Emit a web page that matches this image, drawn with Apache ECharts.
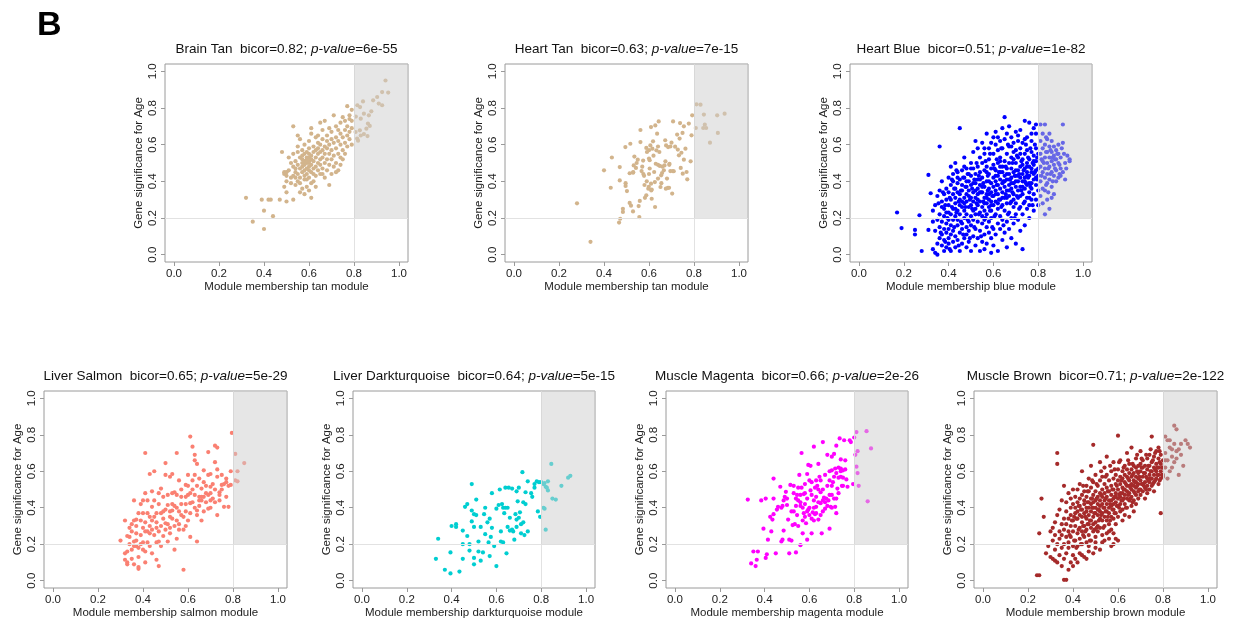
<!DOCTYPE html>
<html><head><meta charset="utf-8">
<script src="https://cdn.jsdelivr.net/npm/echarts@6/dist/echarts.min.js"></script>
<style>html,body{margin:0;padding:0;background:#fff}#c{width:1234px;height:621px}</style>
</head><body><div id="c"></div>
<script>
const panelNames = ['Brain Tan','Heart Tan','Heart Blue','Liver Salmon','Liver Darkturquoise','Muscle Magenta','Muscle Brown'];
const moduleNames = ['tan','tan','blue','salmon','darkturquoise','magenta','brown'];
const bicorValues = ['0.82','0.63','0.51','0.65','0.64','0.66','0.71'];
const pValues = ['6e-55','7e-15','1e-82','5e-29','5e-15','2e-26','2e-122'];
const tickValues = [0,0.2,0.4,0.6,0.8,1.0];
const mmThreshold = 0.8;
const gsThreshold = 0.2;

const brainTan = [[.32,.31],[.35,.18],[.39,.30],[.40,.24],[.40,.14],[.43,.30],[.42,.30],[.44,.21],[.47,.30],[.50,.29],[.53,.30],[.61,.31],
[.48,.56],[.49,.45],[.49,.44],[.50,.43],[.50,.45],[.49,.37],[.50,.34],[.50,.40],[.51,.46],[.52,.39],[.52,.42],[.53,.48],[.53,.55],[.53,.70],[.54,.45],[.54,.47],[.54,.51],[.54,.38],[.55,.40],[.55,.44],[.55,.49],[.55,.56],[.55,.65],[.56,.42],[.56,.47],[.56,.53],[.56,.63],[.56,.39],[.57,.36],[.57,.45],[.57,.48],[.57,.50],[.57,.52],[.57,.54],[.58,.33],[.58,.41],[.58,.46],[.58,.49],[.58,.51],[.58,.55],[.58,.60],[.59,.37],[.59,.44],[.59,.47],[.59,.50],[.59,.52],[.59,.53],[.59,.56],[.60,.35],[.60,.42],[.60,.48],[.60,.50],[.60,.51],[.60,.53],[.60,.55],[.60,.58],[.60,.62],[.61,.45],[.61,.49],[.61,.52],[.61,.54],[.61,.66],[.61,.69],[.62,.40],[.62,.47],[.62,.51],[.62,.56],[.62,.59],[.63,.43],[.63,.48],[.63,.53],[.63,.57],[.63,.64],[.64,.46],[.64,.50],[.64,.55],[.64,.58],[.64,.61],[.64,.65],[.65,.44],[.65,.49],[.65,.52],[.65,.56],[.65,.60],[.65,.72],[.66,.47],[.66,.53],[.66,.57],[.66,.63],[.66,.68],[.67,.42],[.67,.50],[.67,.55],[.67,.59],[.67,.73],[.68,.46],[.68,.52],[.68,.58],[.68,.62],[.68,.65],[.69,.38],[.69,.49],[.69,.55],[.69,.60],[.69,.69],[.70,.44],[.70,.52],[.70,.57],[.70,.63],[.70,.67],[.71,.48],[.71,.54],[.71,.61],[.71,.76],[.72,.50],[.72,.58],[.72,.64],[.72,.70],[.73,.46],[.73,.55],[.73,.62],[.73,.68],[.74,.53],[.74,.60],[.74,.66],[.74,.72],[.75,.57],[.75,.64],[.75,.75],[.75,.52],[.76,.61],[.76,.68],[.76,.73],[.77,.59],[.77,.65],[.77,.70],[.77,.81],[.78,.63],[.78,.67],[.78,.74],[.78,.76],[.79,.60],[.79,.69],[.79,.73],[.79,.79],[.76,.55],[.74,.49],[.72,.45],[.63,.37],[.66,.44],[.58,.43],[.62,.44],[.55,.59],[.52,.50],[.51,.53],[.53,.43],[.56,.34],[.54,.42],[.59,.41],[.61,.39],[.57,.57],[.60,.46],
[.94,.95],[.925,.887],[.952,.884],[.903,.86],[.885,.842],[.91,.824],[.925,.815],[.84,.836],[.815,.815],[.827,.805],[.877,.782],[.844,.769],[.866,.76],[.808,.753],[.83,.742],[.862,.715],[.87,.702],[.855,.687],[.826,.678],[.807,.669],[.83,.65],[.86,.647],[.814,.633],[.818,.622],[.844,.658]];

const heartTan = [[.28,.28],[.34,.07],[.40,.46],[.43,.365],[.435,.53],[.467,.175],[.472,.196],[.484,.25],[.484,.233],[.47,.405],[.47,.478],[.495,.587],[.496,.39],[.496,.375],[.502,.347],[.514,.444],[.517,.605],[.514,.282],[.52,.267],[.529,.236],[.529,.447],[.532,.487],[.535,.535],[.542,.473],[.55,.518],[.554,.265],[.557,.205],[.559,.293],[.562,.68],[.562,.614],[.567,.456],[.574,.513],[.575,.44],[.578,.43],[.582,.31],[.588,.324],[.588,.582],[.591,.56],[.597,.36],[.599,.37],[.60,.524],[.603,.47],[.603,.515],[.606,.596],[.609,.696],[.609,.387],[.612,.305],[.612,.355],[.615,.578],[.618,.618],[.623,.451],[.626,.396],[.627,.26],[.628,.705],[.63,.496],[.633,.569],[.636,.66],[.64,.415],[.643,.727],[.646,.56],[.648,.484],[.651,.369],[.654,.433],[.658,.445],[.666,.46],[.669,.487],[.672,.624],[.673,.509],[.676,.596],[.68,.415],[.684,.364],[.685,.587],[.689,.365],[.691,.496],[.695,.456],[.70,.611],[.703,.333],[.706,.456],[.707,.727],[.716,.589],[.725,.655],[.728,.573],[.733,.542],[.736,.633],[.738,.718],[.741,.473],[.744,.556],[.749,.664],[.75,.442],[.755,.70],[.755,.518],[.762,.578],[.767,.451],[.77,.411],[.777,.715],[.785,.509],[.789,.651],[.792,.76],[.62,.54],[.66,.48],[.59,.40],[.64,.49],[.69,.49],[.71,.455],[.57,.48],[.60,.44],[.655,.39],[.61,.35],[.58,.38],[.64,.59],[.695,.59],[.545,.50],[.53,.45],[.60,.57],[.675,.36],
[.811,.82],[.829,.818],[.844,.764],[.808,.691],[.848,.709],[.854,.691],[.841,.691],[.903,.76],[.936,.769],[.871,.611],[.906,.664]];

const heartBlue = [[.17,.23],[.19,.145],[.25,.11],[.25,.135],[.27,.215],[.28,.02],[.31,.435],[.31,.135],[.32,.335],[.33,.03],[.33,.18],[.33,.24],[.34,.01],[.34,.27],[.34,.13],
[.35,0],[.35,.32],[.35,.06],[.35,.19],[.36,.59],[.36,.09],[.36,.22],[.36,.35],[.36,.15],[.37,.05],[.37,.26],[.37,.11],[.37,.40],[.37,.18],[.37,.29],[.38,.02],[.38,.14],[.38,.21],[.38,.33],[.38,.08],[.38,.25],[.39,.12],[.39,.36],[.39,.17],[.39,.04],[.39,.30],[.39,.23],[.40,.09],[.40,.42],[.40,.19],[.40,.27],[.40,.14],[.40,.34],[.40,.06],
[.41,.48],[.41,.22],[.41,.11],[.41,.30],[.41,.02],[.41,.38],[.41,.16],[.42,.25],[.42,.07],[.42,.33],[.42,.19],[.42,.44],[.42,.13],[.43,.28],[.43,.04],[.43,.36],[.43,.21],[.43,.10],[.43,.50],[.43,.31],[.44,.16],[.44,.24],[.44,.39],[.44,.08],[.44,.34],[.44,.45],[.44,.19],[.45,.69],[.45,.27],[.45,.12],[.45,.30],[.45,.41],[.45,.02],[.45,.22],[.46,.35],[.46,.17],[.46,.06],[.46,.26],[.46,.46],[.46,.38],[.46,.14],[.47,.31],[.47,.20],[.47,.09],[.47,.42],[.47,.28],[.47,.53],[.47,.24],[.48,.15],[.48,.37],[.48,.04],[.48,.33],[.48,.22],[.48,.47],[.48,.11],[.48,.29],[.49,.40],[.49,.18],[.49,.26],[.49,.07],[.49,.35],[.49,.44],[.49,.13],[.50,.31],[.50,.21],[.50,.50],[.50,.02],[.50,.38],[.50,.16],[.50,.27],[.50,.43],
[.51,.10],[.51,.34],[.51,.24],[.51,.47],[.51,.19],[.51,.56],[.51,.29],[.52,.05],[.52,.39],[.52,.14],[.52,.31],[.52,.22],[.52,.62],[.52,.44],[.53,.27],[.53,.09],[.53,.36],[.53,.18],[.53,.48],[.53,.41],[.53,.33],[.54,.23],[.54,.02],[.54,.53],[.54,.13],[.54,.29],[.54,.38],[.54,.45],[.55,.17],[.55,.34],[.55,.07],[.55,.26],[.55,.42],[.55,.61],[.55,.50],[.55,.21],[.56,.31],[.56,.11],[.56,.37],[.56,.46],[.56,.24],[.56,.03],[.56,.55],[.56,.19],[.57,.28],[.57,.40],[.57,.15],[.57,.33],[.57,.66],[.57,.48],[.57,.22],[.57,.06],[.58,.36],[.58,.26],[.58,.44],[.58,.12],[.58,.30],[.58,.52],[.58,.18],[.58,.58],[.59,.39],[.59,.09],[.59,.24],[.59,.34],[.59,.47],[.59,.01],[.59,.29],[.59,.20],[.60,.42],[.60,.14],[.60,.37],[.60,.55],[.60,.27],[.60,.64],[.60,.32],[.60,.05],
[.61,.46],[.61,.22],[.61,.35],[.61,.60],[.61,.11],[.61,.40],[.61,.29],[.61,.67],[.62,.50],[.62,.17],[.62,.33],[.62,.43],[.62,.25],[.62,.57],[.62,.38],[.62,.02],[.63,.30],[.63,.48],[.63,.14],[.63,.36],[.63,.62],[.63,.41],[.63,.21],[.63,.53],[.64,.27],[.64,.45],[.64,.08],[.64,.34],[.64,.58],[.64,.39],[.64,.19],[.64,.69],[.65,.75],[.65,.43],[.65,.31],[.65,.51],[.65,.24],[.65,.37],[.65,.63],[.65,.12],[.66,.47],[.66,.28],[.66,.55],[.66,.35],[.66,.41],[.66,.18],[.66,.66],[.66,.04],[.67,.32],[.67,.50],[.67,.44],[.67,.23],[.67,.38],[.67,.59],[.67,.70],[.67,.14],[.68,.42],[.68,.29],[.68,.53],[.68,.36],[.68,.47],[.68,.20],[.68,.64],[.68,.09],[.69,.39],[.69,.56],[.69,.26],[.69,.45],[.69,.33],[.69,.61],[.69,.17],[.70,.50],[.70,.37],[.70,.43],[.70,.28],[.70,.67],[.70,.57],[.70,.22],[.70,.06],
[.71,.40],[.71,.53],[.71,.31],[.71,.46],[.71,.62],[.71,.19],[.71,.35],[.72,.48],[.72,.26],[.72,.42],[.72,.58],[.72,.37],[.72,.68],[.72,.13],[.73,.44],[.73,.33],[.73,.52],[.73,.22],[.73,.40],[.73,.61],[.73,.03],[.74,.47],[.74,.29],[.74,.55],[.74,.36],[.74,.73],[.74,.42],[.74,.16],[.75,.50],[.75,.31],[.75,.45],[.75,.64],[.75,.25],[.75,.38],[.75,.57],[.76,.43],[.76,.34],[.76,.52],[.76,.27],[.76,.48],[.76,.72],[.76,.20],[.77,.39],[.77,.56],[.77,.45],[.77,.30],[.77,.62],[.77,.36],[.78,.49],[.78,.41],[.78,.33],[.78,.54],[.78,.69],[.78,.24],[.79,.46],[.79,.38],[.79,.58],[.79,.30],[.79,.51],[.79,.66],[.80,.43],[.80,.35],[.80,.55],[.80,.27],
[.355,.28],[.365,.12],[.375,.34],[.385,.07],[.385,.27],[.395,.20],[.405,.31],[.405,.03],[.415,.26],[.415,.41],[.425,.15],[.425,.36],[.435,.23],[.435,.46],[.445,.29],[.445,.05],[.455,.35],[.455,.18],[.465,.42],[.465,.11],[.475,.26],[.475,.37],[.485,.19],[.485,.44],[.495,.30],[.495,.09],[.505,.36],[.505,.25],[.515,.41],[.515,.15],[.525,.28],[.525,.50],[.535,.22],[.535,.43],[.545,.34],[.545,.10],[.555,.39],[.555,.29],[.565,.20],[.565,.51],[.575,.35],[.575,.43],[.585,.24],[.585,.55],[.595,.32],[.595,.15],[.605,.47],[.605,.21],[.615,.38],[.615,.52],[.625,.30],[.625,.45],[.635,.26],[.635,.58],[.645,.40],[.645,.16],[.655,.48],[.655,.33],[.665,.22],[.665,.60],[.675,.41],[.675,.28],[.685,.50],[.685,.34],[.695,.43],[.695,.20],[.705,.54],[.705,.32],[.715,.44],[.715,.25],[.725,.51],[.725,.35],[.735,.46],[.735,.28],[.745,.60],[.745,.39],[.755,.42],[.755,.53],[.765,.37],[.765,.58],[.775,.50],[.775,.27],[.785,.45],[.785,.60],[.795,.41],[.795,.53],
[.52,.25],[.53,.30],[.54,.34],[.56,.28],[.57,.31],[.58,.40],[.59,.27],[.61,.33],[.62,.28],[.63,.45],[.64,.31],[.65,.40],[.66,.31],[.67,.35],[.68,.39],[.69,.30],[.70,.40],[.71,.43],[.72,.32],[.73,.37],[.74,.40],[.75,.43],[.76,.39],[.77,.47],[.78,.44],[.79,.42],[.80,.47],[.76,.31],[.73,.49],[.70,.46],[.67,.41],[.64,.48],[.61,.43],[.58,.33],[.55,.37],[.52,.35],[.49,.32],[.46,.29],[.43,.25],[.40,.23],[.42,.40],[.45,.33],[.48,.40],[.51,.39],[.54,.41],[.57,.45],[.60,.49],[.63,.51],[.66,.44],[.69,.52],[.72,.55],[.75,.48],[.78,.51],[.62,.64],[.59,.61],[.56,.58],[.68,.59],[.71,.65],[.74,.63],[.77,.66],[.79,.71],[.53,.58],[.50,.47],[.47,.48],[.44,.42],
[.81,.62],[.81,.48],[.81,.40],[.81,.71],[.81,.32],[.81,.55],[.82,.45],[.82,.58],[.82,.36],[.82,.51],[.82,.66],[.82,.28],[.83,.71],[.83,.53],[.83,.42],[.83,.47],[.83,.60],[.83,.35],[.83,.22],[.84,.50],[.84,.56],[.84,.44],[.84,.63],[.84,.39],[.84,.30],[.85,.53],[.85,.48],[.85,.59],[.85,.41],[.85,.25],[.85,.66],[.86,.51],[.86,.45],[.86,.56],[.86,.37],[.86,.62],[.86,.31],[.87,.49],[.87,.54],[.87,.43],[.87,.59],[.87,.33],[.88,.52],[.88,.46],[.88,.40],[.88,.57],[.89,.50],[.89,.42],[.89,.55],[.89,.60],[.90,.47],[.90,.43],[.90,.53],[.91,.71],[.91,.61],[.91,.45],[.92,.50],[.92,.41],[.93,.54],[.94,.52],[.94,.51],
[.815,.43],[.825,.50],[.835,.56],[.845,.47],[.855,.44],[.865,.53],[.875,.47],[.885,.55],[.895,.49],[.905,.58],[.835,.38],[.855,.57],[.875,.52],[.815,.52],[.895,.44],[.865,.40],[.845,.34],[.915,.55],[.925,.47],[.835,.64]];

const liverSalmon = [[.30,.22],[.32,.33],[.32,.15],[.32,.115],[.33,.10],[.33,.09],[.33,.245],[.34,.29],[.34,.20],[.35,.31],[.35,.17],[.36,.33],[.36,.09],[.36,.44],[.36,.215],[.37,.19],[.37,.26],[.37,.335],[.38,.13],[.38,.075],[.38,.065],[.39,.20],[.39,.42],[.40,.29],[.40,.37],[.40,.17],[.41,.48],[.41,.70],[.41,.27],[.41,.10],[.42,.21],[.42,.37],[.43,.585],[.43,.26],[.43,.30],[.44,.15],[.44,.49],[.44,.405],[.45,.60],[.45,.35],[.46,.21],[.46,.115],[.46,.29],[.47,.08],[.47,.48],[.47,.215],[.48,.505],[.48,.37],[.49,.245],[.49,.38],[.50,.645],[.50,.58],[.50,.315],[.51,.415],[.51,.215],[.52,.35],[.52,.57],[.52,.26],[.53,.42],[.53,.585],[.53,.385],[.54,.17],[.54,.485],[.55,.23],[.55,.70],[.55,.40],[.56,.55],[.56,.28],[.57,.36],[.57,.46],[.58,.06],[.59,.42],[.59,.525],[.59,.30],[.60,.47],[.60,.58],[.61,.79],[.61,.425],[.61,.24],[.62,.735],[.62,.50],[.63,.69],[.63,.66],[.63,.58],[.64,.64],[.64,.215],[.64,.385],[.65,.46],[.65,.44],[.66,.46],[.66,.505],[.66,.33],[.67,.54],[.67,.605],[.68,.48],[.69,.395],[.69,.705],[.70,.585],[.70,.515],[.70,.44],[.71,.53],[.72,.74],[.72,.65],[.73,.57],[.73,.36],[.73,.73],[.74,.44],[.74,.485],[.75,.525],[.75,.58],[.76,.405],[.77,.46],[.77,.54],[.78,.405],[.78,.52],[.79,.525],[.79,.60],[.795,.81],
[.33,.16],[.34,.24],[.35,.12],[.35,.27],[.36,.19],[.37,.30],[.37,.22],[.38,.37],[.38,.18],[.39,.25],[.39,.33],[.40,.21],[.40,.44],[.41,.32],[.41,.16],[.42,.27],[.42,.44],[.43,.35],[.43,.19],[.44,.28],[.44,.33],[.45,.25],[.45,.44],[.46,.37],[.46,.32],[.47,.27],[.47,.42],[.48,.30],[.48,.19],[.49,.34],[.49,.46],[.50,.28],[.50,.39],[.51,.31],[.51,.47],[.52,.38],[.52,.29],[.53,.34],[.53,.48],[.54,.30],[.54,.41],[.55,.33],[.55,.47],[.56,.38],[.56,.31],[.57,.42],[.57,.50],[.58,.35],[.58,.28],[.59,.46],[.59,.38],[.60,.33],[.60,.52],[.61,.48],[.61,.37],[.62,.43],[.62,.55],[.63,.40],[.63,.47],[.64,.52],[.64,.36],[.65,.56],[.65,.41],[.66,.44],[.67,.46],[.67,.38],[.68,.52],[.68,.43],[.69,.58],[.69,.47],[.70,.48],[.70,.40],[.71,.45],[.72,.50],[.72,.43],[.73,.61],[.74,.47],[.75,.50],[.76,.53],[.77,.56],
[.81,.695],[.81,.55],[.82,.545],[.82,.60],[.85,.645]];

const liverDarkturquoise = [[.33,.12],[.34,.23],[.37,.06],[.395,.155],[.395,.04],[.40,.30],[.42,.31],[.42,.295],[.435,.05],[.45,.275],[.45,.20],[.45,.12],[.46,.405],[.47,.42],[.47,.245],[.48,.20],[.48,.165],[.49,.325],[.49,.53],[.49,.385],[.50,.125],[.50,.295],[.50,.09],[.50,.365],[.51,.445],[.51,.36],[.52,.16],[.52,.215],[.53,.295],[.53,.11],[.54,.155],[.545,.365],[.55,.255],[.55,.40],[.56,.32],[.565,.21],[.57,.34],[.57,.135],[.575,.24],[.58,.48],[.58,.29],[.59,.19],[.60,.395],[.60,.08],[.61,.415],[.615,.50],[.62,.215],[.62,.27],[.625,.42],[.63,.21],[.63,.40],[.635,.37],[.64,.51],[.64,.40],[.645,.15],[.65,.295],[.65,.40],[.655,.51],[.66,.345],[.66,.275],[.67,.28],[.67,.505],[.675,.27],[.68,.225],[.685,.365],[.69,.295],[.69,.49],[.69,.335],[.695,.435],[.70,.345],[.70,.51],[.705,.375],[.71,.31],[.71,.26],[.716,.595],[.72,.43],[.72,.32],[.725,.25],[.73,.485],[.73,.42],[.74,.545],[.74,.27],[.755,.48],[.76,.46],[.77,.51],[.77,.53],[.78,.545],[.785,.38],[.79,.54],[.795,.35],
[.80,.54],[.81,.53],[.815,.395],[.82,.28],[.82,.515],[.83,.495],[.83,.545],[.845,.64],[.85,.45],[.865,.445],[.89,.52],[.92,.565],[.93,.575],[.81,.40],[.815,.535],[.825,.51]];

const muscleMagenta = [[.325,.445],[.34,.095],[.35,.16],[.36,.08],[.365,.115],[.37,.16],[.385,.44],[.395,.285],[.405,.45],[.405,.125],[.41,.145],[.415,.225],[.425,.35],[.43,.27],[.435,.335],[.44,.56],[.44,.45],[.44,.365],[.45,.15],[.455,.39],[.46,.405],[.47,.515],[.475,.215],[.475,.40],[.48,.225],[.485,.44],[.485,.275],[.49,.46],[.495,.487],[.50,.415],[.505,.335],[.51,.225],[.51,.15],[.515,.525],[.52,.22],[.525,.305],[.53,.52],[.53,.38],[.535,.31],[.54,.41],[.54,.155],[.545,.47],[.545,.36],[.55,.44],[.55,.30],[.555,.58],[.56,.41],[.56,.195],[.565,.70],[.565,.51],[.57,.26],[.575,.475],[.575,.37],[.58,.53],[.58,.42],[.585,.315],[.59,.585],[.59,.225],[.595,.635],[.595,.39],[.60,.36],[.605,.63],[.605,.495],[.61,.26],[.61,.34],[.615,.375],[.62,.735],[.62,.44],[.625,.51],[.625,.365],[.63,.46],[.63,.405],[.635,.52],[.64,.64],[.64,.335],[.645,.57],[.65,.425],[.65,.485],[.655,.26],[.66,.38],[.66,.76],[.665,.455],[.67,.395],[.675,.45],[.68,.69],[.68,.52],[.685,.44],[.69,.55],[.69,.285],[.695,.405],[.70,.68],[.70,.47],[.70,.605],[.705,.54],[.71,.695],[.715,.405],[.715,.615],[.72,.74],[.72,.37],[.725,.505],[.73,.565],[.73,.48],[.735,.78],[.74,.615],[.74,.665],[.745,.52],[.75,.605],[.75,.565],[.755,.77],[.76,.66],[.765,.555],[.77,.515],[.78,.77],[.785,.76],[.795,.53],
[.56,.47],[.57,.40],[.58,.35],[.59,.45],[.60,.40],[.61,.47],[.62,.33],[.63,.55],[.64,.43],[.65,.36],[.66,.50],[.67,.58],[.68,.41],[.69,.47],[.70,.52],[.71,.57],[.72,.59],[.73,.62],[.74,.57],[.75,.52],[.76,.61],[.72,.45],[.70,.40],[.66,.44],[.64,.50],[.62,.40],[.60,.55],[.58,.48],[.56,.43],[.54,.45],[.52,.38],[.50,.45],[.48,.41],[.53,.48],[.57,.33],[.61,.54],[.63,.37],[.67,.43],[.71,.45],[.74,.60],[.69,.60],[.65,.55],[.59,.38],[.55,.51],
[.80,.785],[.805,.69],[.81,.625],[.81,.815],[.815,.71],[.815,.59],[.82,.52],[.855,.82],[.875,.725],[.86,.435]];

const muscleBrown = [[.24,.03],[.25,.03],[.25,.26],[.26,.45],[.27,.35],[.28,.15],[.29,.19],[.30,.27],[.30,.13],[.31,.12],[.31,.22],[.31,.29],[.32,.11],[.32,.25],[.32,.32],[.32,.17],[.33,.70],[.33,.64],[.33,.20],[.33,.36],[.33,.10],[.34,.27],[.34,.14],[.34,.23],[.34,.39],[.35,.18],[.35,.31],[.35,.08],[.35,.44],[.35,.25],[.36,.52],[.36,.20],[.36,.34],[.36,.005],[.36,.12],[.36,.28],[.37,.005],[.37,.24],[.37,.38],[.37,.15],[.37,.43],[.37,.31],[.38,.06],[.38,.21],[.38,.34],[.38,.27],[.38,.48],[.38,.18],[.39,.10],[.39,.30],[.39,.40],[.39,.24],[.39,.36],[.39,.45],[.40,.08],[.40,.19],[.40,.33],[.40,.27],[.40,.42],[.40,.50],[.40,.14],
[.41,.22],[.41,.37],[.41,.30],[.41,.46],[.41,.12],[.41,.40],[.42,.26],[.42,.34],[.42,.43],[.42,.19],[.42,.50],[.42,.38],[.42,.10],[.43,.29],[.43,.15],[.43,.36],[.43,.45],[.43,.23],[.43,.41],[.43,.53],[.44,.32],[.44,.39],[.44,.27],[.44,.47],[.44,.20],[.44,.35],[.44,.60],[.44,.14],[.45,.42],[.45,.30],[.45,.37],[.45,.24],[.45,.49],[.45,.13],[.45,.44],[.46,.34],[.46,.40],[.46,.28],[.46,.52],[.46,.21],[.46,.46],[.46,.38],[.46,.12],[.47,.31],[.47,.43],[.47,.36],[.47,.25],[.47,.49],[.47,.16],[.47,.56],[.47,.40],[.47,.19],[.48,.33],[.48,.45],[.48,.29],[.48,.38],[.48,.51],[.48,.22],[.48,.42],[.48,.63],[.49,.35],[.49,.47],[.49,.31],[.49,.40],[.49,.745],[.49,.27],[.49,.54],[.49,.43],[.49,.15],[.50,.37],[.50,.49],[.50,.32],[.50,.44],[.50,.24],[.50,.58],[.50,.40],[.50,.18],[.50,.21],
[.51,.36],[.51,.46],[.51,.30],[.51,.42],[.51,.52],[.51,.39],[.51,.27],[.52,.44],[.52,.34],[.52,.48],[.52,.38],[.52,.55],[.52,.29],[.52,.41],[.52,.65],[.52,.17],[.53,.37],[.53,.46],[.53,.33],[.53,.50],[.53,.42],[.53,.21],[.53,.57],[.53,.25],[.54,.40],[.54,.35],[.54,.48],[.54,.44],[.54,.30],[.54,.53],[.54,.62],[.54,.22],[.55,.38],[.55,.46],[.55,.42],[.55,.33],[.55,.51],[.55,.26],[.55,.58],[.55,.68],[.56,.44],[.56,.37],[.56,.49],[.56,.40],[.56,.55],[.56,.31],[.56,.23],[.56,.27],[.57,.47],[.57,.41],[.57,.35],[.57,.52],[.57,.44],[.57,.60],[.57,.28],[.57,.19],[.58,.39],[.58,.50],[.58,.45],[.58,.56],[.58,.34],[.58,.42],[.58,.65],[.58,.20],[.58,.26],[.59,.48],[.59,.43],[.59,.53],[.59,.37],[.59,.58],[.59,.46],[.59,.31],[.59,.23],[.60,.795],[.60,.50],[.60,.41],[.60,.55],[.60,.45],[.60,.35],[.60,.61],[.60,.22],
[.61,.48],[.61,.53],[.61,.42],[.61,.57],[.61,.38],[.61,.66],[.61,.46],[.62,.51],[.62,.44],[.62,.56],[.62,.39],[.62,.60],[.62,.48],[.62,.33],[.63,.54],[.63,.47],[.63,.58],[.63,.42],[.63,.63],[.63,.50],[.63,.36],[.64,.52],[.64,.45],[.64,.57],[.64,.49],[.64,.61],[.64,.40],[.64,.70],[.65,.55],[.65,.48],[.65,.59],[.65,.44],[.65,.52],[.65,.64],[.65,.35],[.66,.50],[.66,.57],[.66,.46],[.66,.61],[.66,.53],[.66,.41],[.66,.73],[.67,.55],[.67,.49],[.67,.59],[.67,.44],[.67,.63],[.67,.52],[.67,.38],[.68,.57],[.68,.51],[.68,.62],[.68,.47],[.68,.54],[.68,.67],[.68,.42],[.69,.59],[.69,.53],[.69,.49],[.69,.63],[.69,.56],[.69,.45],[.70,.55],[.70,.60],[.70,.50],[.70,.64],[.70,.47],[.70,.71],
[.71,.57],[.71,.53],[.71,.62],[.71,.49],[.71,.66],[.72,.59],[.72,.54],[.72,.63],[.72,.51],[.72,.45],[.73,.56],[.73,.61],[.73,.52],[.73,.67],[.73,.48],[.74,.58],[.74,.63],[.74,.54],[.74,.50],[.74,.69],[.75,.60],[.75,.56],[.75,.65],[.75,.52],[.75,.79],[.76,.58],[.76,.62],[.76,.54],[.76,.68],[.76,.49],[.77,.60],[.77,.56],[.77,.64],[.77,.71],[.78,.58],[.78,.62],[.78,.53],[.78,.67],[.78,.73],[.79,.60],[.79,.56],[.79,.64],[.79,.37],[.79,.69],[.80,.58],[.80,.62],[.80,.66],
[.385,.25],[.395,.33],[.405,.22],[.415,.34],[.425,.28],[.435,.39],[.445,.30],[.455,.35],[.465,.43],[.475,.33],[.485,.40],[.495,.37],[.505,.45],[.515,.39],[.525,.47],[.535,.40],[.545,.45],[.555,.49],[.565,.42],[.575,.50],[.585,.46],[.595,.52],[.605,.47],[.615,.55],[.625,.50],[.635,.53],[.645,.56],[.655,.51],[.665,.58],[.675,.54],[.685,.60],[.695,.57],[.705,.62],[.715,.59],[.725,.57],[.735,.63],[.745,.60],[.755,.66],[.765,.61],[.775,.58],[.785,.65],[.795,.62],
[.405,.35],[.425,.41],[.445,.25],[.465,.31],[.485,.45],[.505,.29],[.525,.36],[.545,.38],[.565,.33],[.585,.37],[.605,.40],[.625,.45],[.645,.47],[.665,.43],[.685,.52],[.705,.53],[.725,.50],[.745,.56],[.765,.55],[.785,.55],
[.415,.18],[.435,.20],[.455,.27],[.475,.22],[.495,.28],[.515,.33],[.535,.29],[.555,.35],[.575,.39],[.595,.41],[.615,.44],[.635,.40],[.655,.45],[.675,.48],[.695,.50],[.715,.52],[.735,.55],[.755,.53],[.775,.62],[.795,.58],
[.445,.52],[.465,.49],[.485,.55],[.505,.53],[.525,.60],[.545,.57],[.565,.63],[.585,.61],[.605,.65],[.625,.62],[.645,.66],[.665,.64],[.685,.69],[.705,.67],[.725,.69],[.745,.72],[.765,.70],[.785,.71],
[.85,.85],[.86,.83],[.81,.79],[.82,.77],[.84,.72],[.87,.72],[.90,.77],[.91,.75],[.92,.73],[.88,.69],[.86,.67],[.85,.65],[.89,.63],[.87,.58],[.83,.60],[.81,.62],[.80,.57],[.82,.56],[.84,.68],[.83,.73],[.81,.70],[.88,.75],[.85,.75],[.82,.66],[.84,.62],[.86,.71],[.81,.66],[.83,.77]];

const panelData = [brainTan, heartTan, heartBlue, liverSalmon, liverDarkturquoise, muscleMagenta, muscleBrown];
const panelColors = ['#D2B48C','#D2B48C','#0000FF','#FA8072','#00CED1','#FF00FF','#A52A2A'];
const grids = [
  {left:165, top:64, width:243, height:198},
  {left:505, top:64, width:243, height:198},
  {left:850, top:64, width:242, height:198},
  {left:44, top:391, width:243, height:197},
  {left:353, top:391, width:242, height:197},
  {left:666, top:391, width:242, height:197},
  {left:974, top:391, width:243, height:197}
];
const FONT = '"Liberation Sans", Arial, sans-serif';
const TXT = '#222';
const FRAME = '#9a9a9a';

const option = {
  backgroundColor: '#fff',
  animation: false,
  title: grids.map((g, i) => ({
    text: '{n|' + panelNames[i] + '  bicor=' + bicorValues[i] + '; }{i|p-value}{n|=' + pValues[i] + '}',
    left: g.left + g.width / 2 - 5,
    top: i < 3 ? 37 : 364,
    textAlign: 'center',
    textStyle: { fontWeight: 'normal', rich: {
      n: { fontSize: 13.5, fontFamily: FONT, color: '#111', fontWeight: 'normal' },
      i: { fontSize: 13.5, fontFamily: FONT, color: '#111', fontStyle: 'italic', fontWeight: 'normal' }
    } }
  })),
  graphic: [{ type: 'text', left: 37, top: 9, style: { text: 'B', font: 'bold 34px "Liberation Sans", Arial, sans-serif', fill: '#000' } }],
  grid: grids.map(g => Object.assign({ show: true, borderColor: FRAME, borderWidth: 1, backgroundColor: 'transparent' }, g)),
  xAxis: grids.map((g, i) => ({
    gridIndex: i, type: 'value', min: -0.04, max: 1.04,
    splitLine: { show: false },
    axisLine: { show: false, onZero: false },
    axisTick: { show: true, inside: false, length: 4, customValues: tickValues, lineStyle: { color: FRAME } },
    axisLabel: { customValues: tickValues, formatter: v => v.toFixed(1), margin: 6, fontSize: 11.5, fontFamily: FONT, color: TXT },
    name: 'Module membership ' + moduleNames[i] + ' module',
    nameLocation: 'middle', nameGap: 19,
    nameTextStyle: { fontSize: 11.5, fontFamily: FONT, color: TXT }
  })),
  yAxis: grids.map((g, i) => ({
    gridIndex: i, type: 'value', min: -0.04, max: 1.04,
    splitLine: { show: false },
    axisLine: { show: false, onZero: false },
    axisTick: { show: true, inside: false, length: 4, customValues: tickValues, lineStyle: { color: FRAME } },
    axisLabel: { customValues: tickValues, formatter: v => v.toFixed(1), rotate: 90, margin: 6, fontSize: 11.5, fontFamily: FONT, color: TXT },
    name: 'Gene significance for Age',
    nameLocation: 'middle', nameGap: 20,
    nameTextStyle: { fontSize: 11.5, fontFamily: FONT, color: TXT }
  })),
  series: []
};

panelData.forEach((d, i) => {
  option.series.push({
    type: 'scatter', xAxisIndex: i, yAxisIndex: i, data: d, symbolSize: 4.2, z: 2,
    itemStyle: { color: panelColors[i], opacity: 1 },
    markLine: { silent: true, symbol: 'none', label: { show: false },
      lineStyle: { color: '#e2e2e2', width: 1, type: 'solid' },
      data: [{ yAxis: gsThreshold }, { xAxis: mmThreshold }] }
  });
  option.series.push({
    type: 'custom', xAxisIndex: i, yAxisIndex: i, z: 5, silent: true,
    data: [[mmThreshold, gsThreshold, 1.04, 1.04]],
    renderItem: (params, api) => {
      const p0 = api.coord([api.value(0), api.value(3)]);
      const p1 = api.coord([api.value(2), api.value(1)]);
      return { type: 'rect', shape: { x: p0[0], y: p0[1], width: p1[0] - p0[0], height: p1[1] - p0[1] },
        style: { fill: 'rgba(205,205,205,0.5)' } };
    }
  });
});

const chart = echarts.init(document.getElementById('c'), null, { renderer: 'canvas' });
chart.setOption(option);
</script>
</body></html>
